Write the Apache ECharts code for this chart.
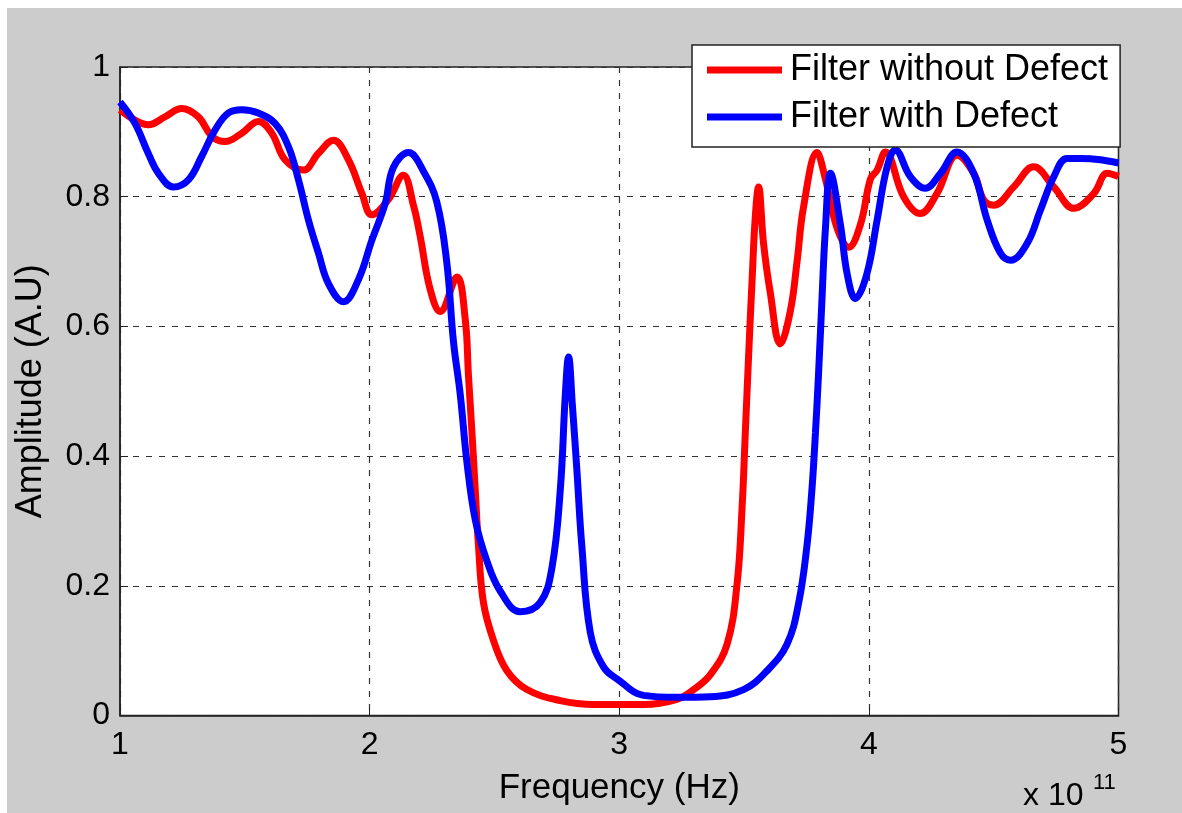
<!DOCTYPE html>
<html>
<head>
<meta charset="utf-8">
<script src="https://cdn.jsdelivr.net/npm/echarts@6/dist/echarts.min.js"></script>
<style>
html,body{margin:0;padding:0;background:#ffffff;width:1182px;height:813px;overflow:hidden;}
#chart{position:absolute;left:7px;top:8px;width:1175px;height:805px;}
</style>
</head>
<body>
<div id="chart"></div>
<script>
// Frequency in units of 1e11 Hz
const freqNoDefect = [1.000,1.060,1.113,1.180,1.247,1.314,1.368,1.421,1.488,1.554,1.608,1.661,1.735,1.795,1.855,1.915,1.969,2.009,2.074,2.135,2.176,2.202,2.242,2.283,2.350,2.383,2.396,2.410,2.423,2.436,2.456,2.496,2.550,2.630,2.764,2.897,3.097,3.231,3.298,3.365,3.432,3.472,3.492,3.505,3.518,3.532,3.545,3.558,3.578,3.605,3.645,3.685,3.712,3.739,3.792,3.826,3.873,3.919,3.966,4.006,4.033,4.066,4.139,4.206,4.273,4.353,4.420,4.460,4.500,4.580,4.660,4.741,4.821,4.901,4.955,5.000];
const ampNoDefect = [0.934,0.918,0.911,0.923,0.936,0.923,0.893,0.885,0.898,0.916,0.898,0.857,0.841,0.867,0.887,0.857,0.805,0.772,0.795,0.833,0.786,0.740,0.658,0.623,0.676,0.611,0.524,0.436,0.349,0.262,0.174,0.116,0.069,0.040,0.023,0.017,0.017,0.025,0.040,0.063,0.110,0.203,0.320,0.436,0.553,0.670,0.769,0.815,0.728,0.652,0.573,0.623,0.699,0.786,0.868,0.827,0.751,0.722,0.757,0.827,0.841,0.869,0.800,0.774,0.805,0.864,0.836,0.795,0.787,0.815,0.846,0.815,0.782,0.805,0.836,0.831];
const freqDefect = [1.000,1.060,1.113,1.154,1.214,1.274,1.327,1.381,1.434,1.488,1.554,1.621,1.675,1.715,1.755,1.795,1.835,1.895,1.955,2.009,2.062,2.095,2.156,2.216,2.269,2.309,2.336,2.363,2.390,2.423,2.470,2.523,2.603,2.683,2.730,2.764,2.784,2.797,2.812,2.830,2.850,2.884,2.937,2.996,3.097,3.231,3.365,3.498,3.592,3.672,3.719,3.752,3.772,3.786,3.798,3.812,3.826,3.846,3.886,3.913,3.946,3.992,4.033,4.073,4.106,4.166,4.226,4.287,4.353,4.420,4.474,4.527,4.567,4.634,4.687,4.741,4.794,4.848,4.928,5.000];
const ampDefect = [0.946,0.913,0.867,0.836,0.815,0.826,0.862,0.903,0.929,0.934,0.929,0.913,0.877,0.826,0.764,0.713,0.666,0.638,0.672,0.733,0.789,0.845,0.868,0.839,0.792,0.699,0.576,0.495,0.390,0.302,0.238,0.192,0.160,0.174,0.227,0.349,0.495,0.553,0.480,0.380,0.262,0.128,0.075,0.055,0.031,0.028,0.029,0.040,0.069,0.110,0.174,0.262,0.349,0.436,0.524,0.641,0.751,0.836,0.757,0.681,0.643,0.681,0.764,0.846,0.872,0.831,0.813,0.836,0.869,0.836,0.764,0.713,0.702,0.728,0.779,0.831,0.859,0.859,0.857,0.852];
const seriesNames = ['Filter without Defect','Filter with Defect'];
const xTicks = [1,2,3,4,5];
const yTicks = [0,0.2,0.4,0.6,0.8,1];

const zip = (a,b) => a.map((v,i)=>[v,b[i]]);
const FONT = '"Liberation Sans", Arial, Helvetica, sans-serif';

const chart = echarts.init(document.getElementById('chart'), null, {renderer:'canvas'});
const gridLine = {show:true, lineStyle:{color:'#333', width:1.2, type:[6,7]}};
chart.setOption({
  backgroundColor:'#cccccc',
  animation:false,
  grid:{left:113, right:63.5, top:59, bottom:97.5, show:true, backgroundColor:'#ffffff', borderColor:'#222', borderWidth:1.5, containLabel:false, outerBoundsMode:'none'},
  legend:{
    orient:'vertical', left:685, top:37,
    data:seriesNames,
    icon:'rect', itemWidth:75, itemHeight:7, itemGap:7,
    backgroundColor:'#ffffff', borderColor:'#222', borderWidth:1.5,
    padding:[5,12,10,15],
    textStyle:{fontFamily:FONT, fontSize:36, color:'#000', lineHeight:40, padding:[0,0,0,3]}
  },
  xAxis:{
    type:'value', min:xTicks[0], max:xTicks[xTicks.length-1], interval:1,
    name:'Frequency (Hz)', nameLocation:'middle', nameGap:55,
    nameTextStyle:{fontFamily:FONT, fontSize:35, color:'#000'},
    axisLine:{show:true, onZero:false, lineStyle:{color:'#222', width:1.5}},
    axisTick:{show:true, inside:true, length:8, lineStyle:{color:'#222'}},
    axisLabel:{fontFamily:FONT, fontSize:32, color:'#000', margin:14, formatter:v=>String(v)},
    splitLine:gridLine
  },
  yAxis:{
    type:'value', min:yTicks[0], max:yTicks[yTicks.length-1], interval:0.2,
    name:'Amplitude (A.U)', nameLocation:'middle', nameGap:71,
    nameTextStyle:{fontFamily:FONT, fontSize:36, color:'#000'},
    axisLine:{show:true, lineStyle:{color:'#222', width:1.5}},
    axisTick:{show:true, inside:true, length:8, lineStyle:{color:'#222'}},
    axisLabel:{fontFamily:FONT, fontSize:32, color:'#000', margin:10, formatter:v=>String(Math.round(v*10)/10)},
    splitLine:gridLine
  },
  graphic:[
    {type:'text', left:1016, top:772, style:{text:'x 10', fontFamily:FONT, fontSize:32, fill:'#000'}},
    {type:'text', left:1086, top:764, style:{text:'11', fontFamily:FONT, fontSize:22, fill:'#000'}}
  ],
  series:[
    {name:seriesNames[0], type:'line', data:zip(freqNoDefect, ampNoDefect), showSymbol:false, smooth:0.4, lineStyle:{color:'#ff0000', width:7}, itemStyle:{color:'#ff0000'}},
    {name:seriesNames[1], type:'line', data:zip(freqDefect, ampDefect), showSymbol:false, smooth:0.4, lineStyle:{color:'#0000ff', width:7}, itemStyle:{color:'#0000ff'}}
  ]
});
</script>
</body>
</html>
